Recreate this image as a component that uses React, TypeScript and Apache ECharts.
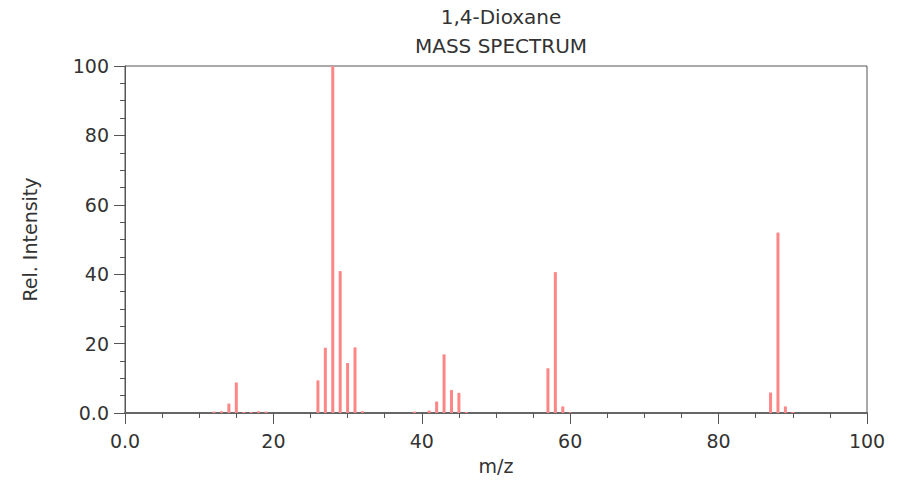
import React, { useEffect, useRef } from "react";
import * as echarts from "echarts";

const mz = [12, 13, 14, 15, 16, 17, 18, 19, 26, 27, 28, 29, 30, 31, 32, 39, 41, 42, 43, 44, 45, 46, 57, 58, 59, 60, 87, 88, 89, 90];
const intensity = [0.4, 0.5, 2.7, 8.8, 0.3, 0.3, 0.5, 0.4, 9.4, 18.8, 100, 40.9, 14.4, 18.9, 0.5, 0.4, 0.7, 3.3, 16.9, 6.6, 5.8, 0.3, 12.9, 40.6, 1.9, 0.2, 5.9, 52.0, 1.9, 0.3];
const titleMain = "1,4-Dioxane";
const titleSub = "MASS SPECTRUM";
const xName = "m/z";
const yName = "Rel. Intensity";

const FONT = "DejaVu Sans";
const AXIS = "#555555";
const TEXT = "#333333";
const FS = 19;

export default function App() {
  const ref = useRef<HTMLDivElement>(null);
  useEffect(() => {
    document.body.style.margin = "0";
    const chart = echarts.init(ref.current!, undefined, { renderer: "svg" });
    const fmt = (v: number) => (v === 0 ? "0.0" : String(v));
    chart.setOption({
      animation: false,
      backgroundColor: "#ffffff",
      textStyle: { fontFamily: FONT },
      title: [
        { text: titleMain, left: 496, top: 2, textAlign: "center", textStyle: { fontFamily: FONT, fontSize: 20, fontWeight: "normal", color: TEXT } },
        { text: titleSub, left: 496, top: 31, textAlign: "center", textStyle: { fontFamily: FONT, fontSize: 20, fontWeight: "normal", color: TEXT } },
      ],
      grid: { left: 125, right: 30, top: 66, bottom: 70, show: true, borderColor: AXIS, borderWidth: 1, backgroundColor: "transparent" },
      xAxis: {
        type: "value", min: 0, max: 100, interval: 20,
        name: xName, nameLocation: "middle", nameGap: 43,
        nameTextStyle: { fontFamily: FONT, fontSize: FS, color: TEXT },
        axisLine: { show: true, lineStyle: { color: "#666666", width: 2 } },
        axisTick: { show: true, length: 11, lineStyle: { color: AXIS } },
        minorTick: { show: true, splitNumber: 4, length: 5, lineStyle: { color: AXIS } },
        splitLine: { show: false },
        axisLabel: { fontFamily: FONT, fontSize: FS, color: TEXT, margin: 18, formatter: fmt },
      },
      yAxis: {
        type: "value", min: 0, max: 100, interval: 20,
        name: yName, nameLocation: "middle", nameGap: 86,
        nameTextStyle: { fontFamily: FONT, fontSize: FS, color: TEXT },
        axisLine: { show: true, lineStyle: { color: AXIS, width: 1 } },
        axisTick: { show: true, length: 11, lineStyle: { color: AXIS } },
        minorTick: { show: true, splitNumber: 4, length: 5, lineStyle: { color: AXIS } },
        splitLine: { show: false },
        axisLabel: { fontFamily: FONT, fontSize: FS, color: TEXT, margin: 16, formatter: fmt },
      },
      series: [
        {
          type: "bar",
          data: mz.map((m, i) => [m, intensity[i]]),
          barWidth: 3,
          itemStyle: { color: "#ff8686" },
        },
      ],
    });
    return () => chart.dispose();
  }, []);
  return <div ref={ref} style={{ width: 897, height: 483, position: "absolute", left: 0, top: 0 }} />;
}
